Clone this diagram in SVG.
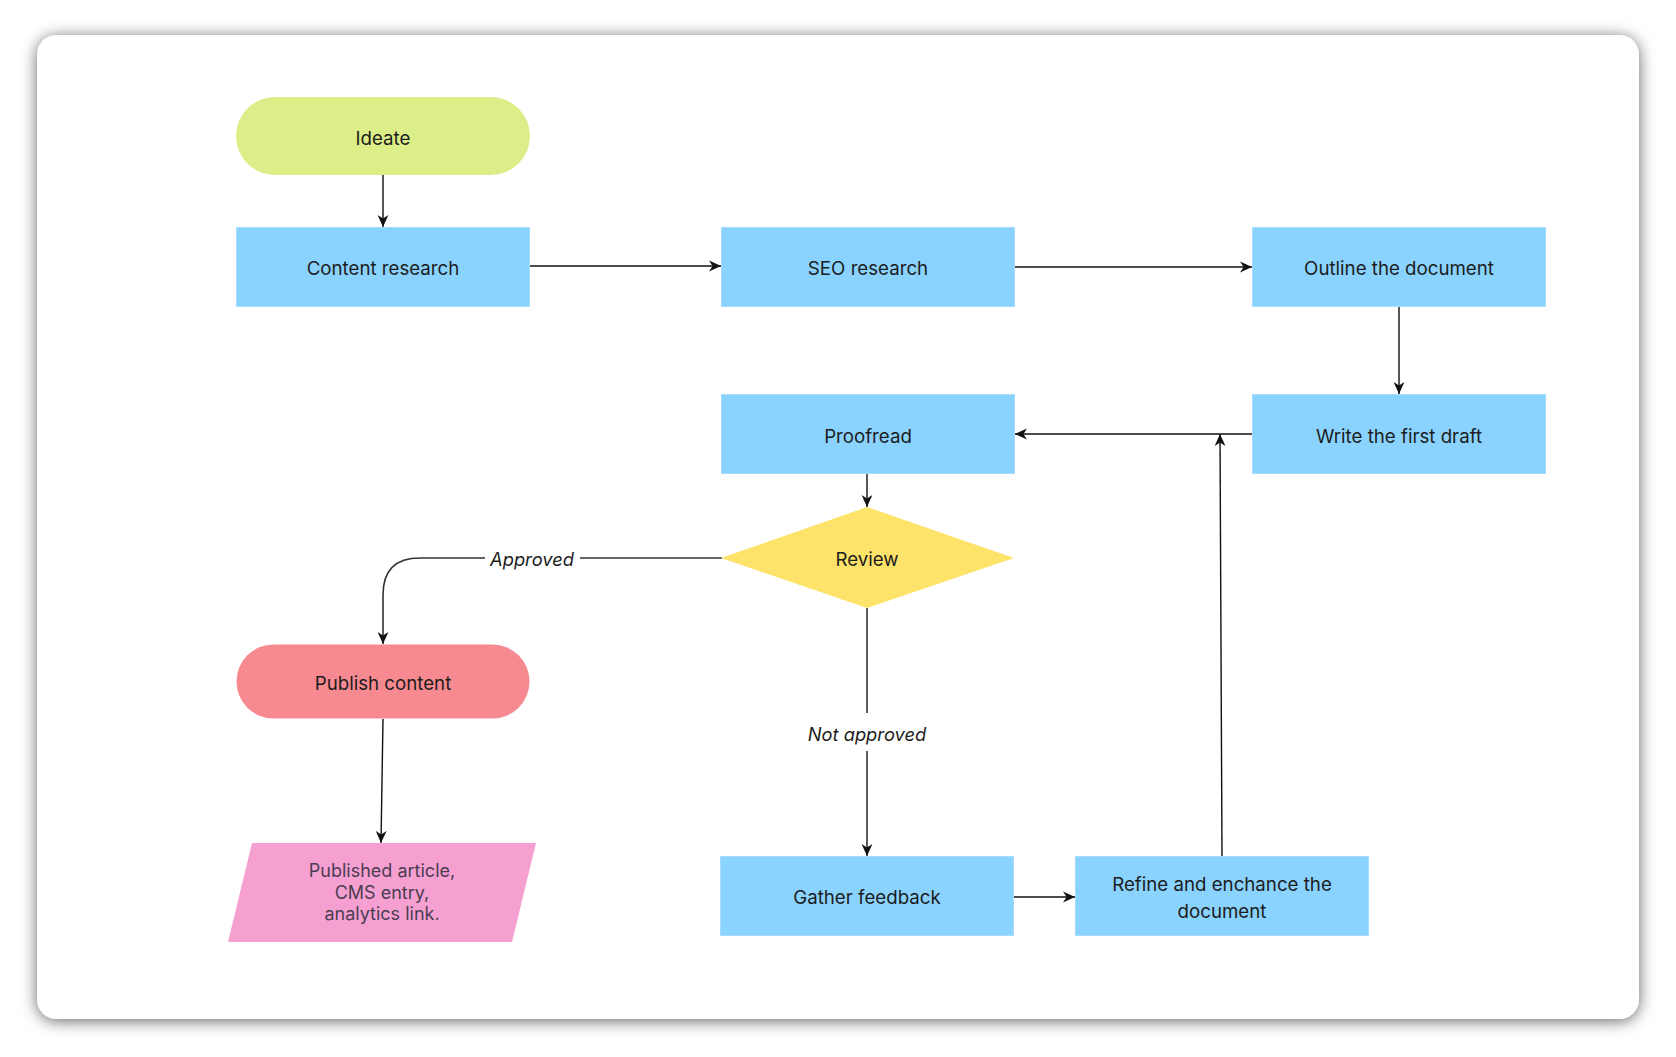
<svg xmlns="http://www.w3.org/2000/svg" width="1676" height="1057" viewBox="0 0 1676 1057">
<style>
.t{font-family:Inter,"Noto Sans","DejaVu Sans",sans-serif;font-size:18.7px;fill:#1c1c1c;text-anchor:middle}
.lbl{font-family:Inter,"Noto Sans","DejaVu Sans",sans-serif;font-size:18.3px;font-style:italic;fill:#1c1c1c;text-anchor:middle}
.out{font-family:Inter,"Noto Sans","DejaVu Sans",sans-serif;font-size:18px;fill:#4a3d52;text-anchor:middle}
.box{fill:#8AD3FF;stroke:#a5dcff;stroke-width:1}
.c{fill:none;stroke:#111;stroke-width:1.4}
.cl{fill:none;stroke:#333;stroke-width:1.6}
</style>
<defs>
<filter id="sh" x="-5%" y="-5%" width="110%" height="110%">
<feDropShadow dx="0" dy="2" stdDeviation="8" flood-color="#000" flood-opacity="0.6"/>
</filter>
<marker id="ar" markerUnits="userSpaceOnUse" markerWidth="12" markerHeight="12" viewBox="0 0 10 10" refX="10" refY="5" orient="auto">
<path d="M0,0.5 L10,5 L0,9.5 L3,5 z" fill="#111"/>
</marker>
</defs>
<rect x="0" y="0" width="1676" height="1057" fill="#fff"/>
<rect x="37" y="35" width="1602" height="984" rx="20" fill="#fff" filter="url(#sh)"/>

<g id="connectors">
<path class="c" d="M383,175 L383,227" marker-end="url(#ar)"/>
<path class="c" d="M530,266 L721,266" marker-end="url(#ar)"/>
<path class="c" d="M1014,267 L1252,267" marker-end="url(#ar)"/>
<path class="c" d="M1399,307 L1399,394" marker-end="url(#ar)"/>
<path class="c" d="M1253,434 L1015,434" marker-end="url(#ar)"/>
<path class="c" d="M867,474 L867,507" marker-end="url(#ar)"/>
<path class="cl" d="M722,558 L420,558 Q383,558 383,595 L383,644" marker-end="url(#ar)"/>
<rect x="485" y="546" width="95" height="24" fill="#fff"/>
<text class="lbl" x="532" y="566">Approved</text>
<path class="cl" d="M867,608 L867,856" marker-end="url(#ar)"/>
<rect x="800" y="713" width="134" height="38" fill="#fff"/>
<text class="lbl" x="867" y="741">Not approved</text>
<path class="c" d="M383,719 L381,843" marker-end="url(#ar)"/>
<path class="c" d="M1014,897 L1075,897" marker-end="url(#ar)"/>
<path class="c" d="M1222,856 L1220,434" marker-end="url(#ar)"/>
</g>

<g id="ideate">
<rect x="236" y="97" width="294" height="78" rx="39" fill="#DCEE87"/>
<text class="t" x="383" y="145">Ideate</text>
</g>
<g id="content-research">
<rect class="box" x="236.5" y="227.5" width="293" height="79"/>
<text class="t" x="383" y="275">Content research</text>
</g>
<g id="seo-research">
<rect class="box" x="721.5" y="227.5" width="293" height="79"/>
<text class="t" x="868" y="275">SEO research</text>
</g>
<g id="outline">
<rect class="box" x="1252.5" y="227.5" width="293" height="79"/>
<text class="t" x="1399" y="275">Outline the document</text>
</g>
<g id="write-draft">
<rect class="box" x="1252.5" y="394.5" width="293" height="79"/>
<text class="t" x="1399" y="443">Write the first draft</text>
</g>
<g id="proofread">
<rect class="box" x="721.5" y="394.5" width="293" height="79"/>
<text class="t" x="868" y="443">Proofread</text>
</g>
<g id="review">
<polygon points="867,507 1014,558 867,608 721,558" fill="#FEE36B"/>
<text class="t" x="867" y="566">Review</text>
</g>
<g id="publish-content">
<rect x="236.5" y="644.5" width="293" height="74" rx="37" fill="#F78A90"/>
<text class="t" x="383" y="690">Publish content</text>
</g>
<g id="published-article">
<polygon points="252,843 536,843 512,942 228,942" fill="#F6A0D1"/>
<text class="out" x="382" y="877">Published article,</text>
<text class="out" x="382" y="899">CMS entry,</text>
<text class="out" x="382" y="920">analytics link.</text>
</g>
<g id="gather-feedback">
<rect class="box" x="720.5" y="856.5" width="293" height="79"/>
<text class="t" x="867" y="904">Gather feedback</text>
</g>
<g id="refine">
<rect class="box" x="1075.5" y="856.5" width="293" height="79"/>
<text class="t" x="1222" y="891">Refine and enchance the</text>
<text class="t" x="1222" y="918">document</text>
</g>
</svg>
